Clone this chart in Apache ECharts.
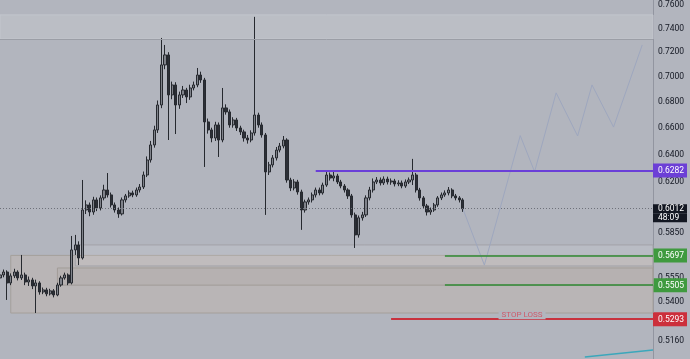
<!DOCTYPE html>
<html><head><meta charset="utf-8">
<script src="https://cdn.jsdelivr.net/npm/echarts@6/dist/echarts.min.js"></script>
<style>html,body{margin:0;padding:0;background:#b2b5be;}#c{width:690px;height:359px;}</style>
</head><body><div id="c"></div>
<script>
// ---- data ----
const openV = [0.5551,0.5570,0.5589,0.5519,0.5564,0.5589,0.5551,0.5570,0.5525,0.5538,
0.5500,0.5519,0.5462,0.5475,0.5450,0.5469,0.5443,0.5506,0.5551,0.5570,
0.5519,0.5733,0.5766,0.5680,0.6003,0.6038,0.5989,0.6073,0.6017,0.6087,
0.6143,0.6108,0.6038,0.6003,0.5976,0.6073,0.6101,0.6122,0.6108,0.6143,
0.6164,0.6250,0.6359,0.6470,0.6583,0.6775,0.7095,0.7177,0.6854,0.6933,
0.6775,0.6854,0.6893,0.6838,0.6909,0.6933,0.7013,0.6973,0.6644,0.6583,
0.6522,0.6621,0.6507,0.6752,0.6721,0.6621,0.6659,0.6598,0.6568,0.6522,
0.6507,0.6560,0.6697,0.6621,0.6545,0.6272,0.6323,0.6374,0.6432,0.6462,
0.6507,0.6214,0.6157,0.6200,0.6129,0.6003,0.6059,0.6073,0.6108,0.6143,
0.6122,0.6178,0.6250,0.6228,0.6243,0.6200,0.6171,0.6143,0.6101,0.5969,
0.5833,0.5949,0.5969,0.6087,0.6143,0.6200,0.6214,0.6193,0.6221,0.6200,
0.6207,0.6186,0.6193,0.6171,0.6200,0.6214,0.6250,0.6143,0.6087,0.6031,
0.5989,0.6003,0.6038,0.6087,0.6108,0.6122,0.6143,0.6101,0.6087,0.6073];
const closeV = [0.5570,0.5589,0.5519,0.5564,0.5589,0.5551,0.5570,0.5525,0.5538,0.5500,
0.5519,0.5462,0.5475,0.5450,0.5469,0.5443,0.5506,0.5551,0.5570,0.5519,
0.5733,0.5766,0.5680,0.6003,0.6038,0.5989,0.6073,0.6017,0.6087,0.6143,
0.6108,0.6038,0.6003,0.5976,0.6073,0.6101,0.6122,0.6108,0.6143,0.6164,
0.6250,0.6359,0.6470,0.6583,0.6775,0.7095,0.7177,0.6854,0.6933,0.6775,
0.6854,0.6893,0.6838,0.6909,0.6933,0.7013,0.6973,0.6644,0.6583,0.6522,
0.6621,0.6507,0.6752,0.6721,0.6621,0.6659,0.6598,0.6568,0.6522,0.6507,
0.6560,0.6697,0.6621,0.6545,0.6272,0.6323,0.6374,0.6432,0.6462,0.6507,
0.6214,0.6157,0.6200,0.6129,0.6003,0.6059,0.6073,0.6108,0.6143,0.6122,
0.6178,0.6250,0.6228,0.6243,0.6200,0.6171,0.6143,0.6101,0.5969,0.5833,
0.5949,0.5969,0.6087,0.6143,0.6200,0.6214,0.6193,0.6221,0.6200,0.6207,
0.6186,0.6193,0.6171,0.6200,0.6214,0.6250,0.6143,0.6087,0.6031,0.5989,
0.6003,0.6038,0.6087,0.6108,0.6122,0.6143,0.6101,0.6087,0.6073,0.6012];
const lowV = [0.5530,0.5555,0.5412,0.5505,0.5550,0.5535,0.5538,0.5505,0.5500,0.5480,
0.5331,0.5445,0.5448,0.5435,0.5440,0.5428,0.5435,0.5495,0.5540,0.5505,
0.5510,0.5700,0.5634,0.5670,0.5975,0.5960,0.5970,0.5995,0.6000,0.6070,
0.6090,0.6020,0.5985,0.5949,0.5965,0.6055,0.6088,0.6092,0.6095,0.6125,
0.6150,0.6235,0.6340,0.6450,0.6560,0.6750,0.7060,0.6507,0.6820,0.6552,
0.6745,0.6830,0.6790,0.6815,0.6890,0.6915,0.6950,0.6308,0.6555,0.6490,
0.6500,0.6381,0.6490,0.6700,0.6600,0.6600,0.6575,0.6545,0.6495,0.6480,
0.6490,0.6540,0.6600,0.6525,0.5969,0.6250,0.6305,0.6355,0.6415,0.6445,
0.6195,0.6135,0.6140,0.6110,0.5867,0.5985,0.6040,0.6055,0.6090,0.6105,
0.6110,0.6165,0.6210,0.6205,0.6185,0.6155,0.6125,0.6080,0.5950,0.5746,
0.5815,0.5930,0.5955,0.6070,0.6125,0.6185,0.6175,0.6178,0.6182,0.6180,
0.6168,0.6170,0.6155,0.6158,0.6185,0.6178,0.6125,0.6068,0.6012,0.5965,
0.5970,0.5990,0.6025,0.6072,0.6095,0.6105,0.6085,0.6070,0.6055,0.5990];
const highV = [0.5590,0.5605,0.5600,0.5580,0.5610,0.5600,0.5700,0.5585,0.5560,0.5552,
0.5540,0.5530,0.5490,0.5488,0.5482,0.5480,0.5520,0.5565,0.5585,0.5580,
0.5826,0.5833,0.5790,0.6214,0.6070,0.6055,0.6095,0.6090,0.6105,0.6180,
0.6264,0.6125,0.6055,0.6020,0.6090,0.6115,0.6140,0.6138,0.6160,0.6185,
0.6275,0.6385,0.6500,0.6615,0.6810,0.7319,0.7260,0.7200,0.6960,0.6955,
0.6880,0.6925,0.6910,0.6935,0.6960,0.7070,0.7040,0.6990,0.6670,0.6600,
0.6645,0.6640,0.6909,0.6780,0.6740,0.6680,0.6675,0.6615,0.6585,0.6545,
0.6580,0.7499,0.6715,0.6640,0.6560,0.6345,0.6395,0.6455,0.6485,0.6537,
0.6520,0.6230,0.6220,0.6215,0.6145,0.6075,0.6090,0.6125,0.6160,0.6160,
0.6195,0.6279,0.6268,0.6279,0.6258,0.6215,0.6185,0.6155,0.6115,0.5985,
0.5965,0.5990,0.6105,0.6165,0.6225,0.6235,0.6232,0.6240,0.6238,0.6225,
0.6222,0.6212,0.6210,0.6218,0.6232,0.6367,0.6265,0.6158,0.6100,0.6045,
0.6020,0.6052,0.6100,0.6125,0.6140,0.6164,0.6155,0.6115,0.6100,0.6085];
// projected path (category index, price)
const projIdx = [129,135,145,149,155,161,165,171,179];
const projVal = [0.6012,0.5634,0.6540,0.6274,0.6870,0.6537,0.6933,0.6605,0.7260];
// axis tick labels
const tickLabels = [0.7600,0.7400,0.7200,0.7000,0.6800,0.6600,0.6400,0.6200,0.5850,0.5550,0.5400,0.5160];
// drawn levels
const currentPrice = 0.6012, countdown = '48:09';
const resistance = 0.6282, target1 = 0.5697, target2 = 0.5505, stopLoss = 0.5293;
const topBand = [0.7516, 0.7310];
const zoneA = [0.5697, 0.5331];
const zoneB = [0.5766, 0.5628];
const zoneC = [0.5615, 0.5505];
const cyanLine = [[163,0.5068],[182,0.5109]];
const nCats = 183;

const categories = Array.from({length:nCats},(_,i)=>String(i));
const candles = openV.map((o,i)=>[o, closeV[i], lowV[i], highV[i]]);
const projData = projIdx.map((x,i)=>[x, projVal[i]]);

const near=(a,b)=>Math.abs(a-b)<0.00005;
const chart = echarts.init(document.getElementById('c'), null, {renderer:'canvas'});
const FONT = 'Roboto, "Liberation Sans", sans-serif';
const boxStyle = (bg)=>({backgroundColor:bg,color:'#ffffff',width:29,padding:[2,0,2,5],fontSize:8.5,lineHeight:9,fontFamily:FONT});
chart.setOption({
  animation:false,
  backgroundColor:'#b2b5be',
  grid:{left:0,right:33,top:0,bottom:0},
  xAxis:{type:'category',data:categories,boundaryGap:false,show:false},
  yAxis:{type:'log',logBase:10,position:'right',min:0.5056,max:0.7646,
    splitLine:{show:false},axisTick:{show:false},
    axisLine:{show:true,lineStyle:{color:'#9295a0',width:1}},
    axisLabel:{
      customValues: tickLabels.concat([resistance,currentPrice,target1,target2,stopLoss]),
      margin:0, hideOverlap:false, fontFamily:FONT, fontSize:8.5, color:'#131722',
      formatter:function(v){
        const s=Number(v).toFixed(4);
        if(near(v,resistance)) return '{pu|'+s+'}';
        if(near(v,currentPrice)) return '{e| }\n{bk|'+s+'}\n{bk|'+countdown+'}';
        if(near(v,target1)||near(v,target2)) return '{gr|'+s+'}';
        if(near(v,stopLoss)) return '{rd|'+s+'}';
        return '{n|'+s+'}';
      },
      rich:{
        n:{color:'#131722',fontSize:8.5,padding:[0,0,0,5],fontFamily:FONT},
        e:{fontSize:8,lineHeight:9,height:9},
        pu:Object.assign(boxStyle('#6c3fd6'),{padding:[3,0,2,5]}),
        bk:Object.assign(boxStyle('#131722'),{padding:[0,0,0,5],height:9}),
        gr:Object.assign(boxStyle('#3f9a3f'),{padding:[3,0,2,5]}),
        rd:Object.assign(boxStyle('#cc2f3b'),{padding:[3,0,2,5]})
      }
    }
  },
  series:[
    {type:'line',data:projData,symbol:'none',silent:true,z:1,
      lineStyle:{color:'#9ea7be',width:1},
      markArea:{silent:true,data:[
        [{coord:[0,topBand[0]],itemStyle:{color:'rgba(255,255,255,0.12)',borderColor:'#c3c6cd',borderWidth:1}},{coord:[nCats-1,topBand[1]]}],
        [{coord:[3,zoneA[0]],itemStyle:{color:'rgba(196,182,168,0.38)',borderColor:'#a5a09b',borderWidth:1}},{coord:[nCats-1,zoneA[1]]}],
        [{coord:[21,zoneB[0]],itemStyle:{color:'rgba(255,255,255,0.10)',borderColor:'#a2a3a8',borderWidth:1}},{coord:[nCats-1,zoneB[1]]}],
        [{coord:[16,zoneC[0]],itemStyle:{color:'rgba(160,150,140,0.10)',borderColor:'#a29d98',borderWidth:1}},{coord:[nCats-1,zoneC[1]]}]
      ]},
      markLine:{silent:true,symbol:['none','none'],label:{show:false},data:[
        [{coord:[0,topBand[1]],lineStyle:{color:'#9b9ea6',width:1,type:'solid'}},{coord:[nCats-1,topBand[1]]}],
        [{coord:[0,currentPrice],lineStyle:{color:'#6e717a',width:1,type:[1,2]}},{coord:[nCats-1,currentPrice]}],
        [{coord:[88,resistance],lineStyle:{color:'#6a3fd8',width:2,type:'solid'}},{coord:[nCats-1,resistance]}],
        [{coord:[124,target1],lineStyle:{color:'#2f8a33',width:1.5,type:'solid'}},{coord:[nCats-1,target1]}],
        [{coord:[124,target2],lineStyle:{color:'#2f8a33',width:1.5,type:'solid'}},{coord:[nCats-1,target2]}],
        [{coord:[109,stopLoss],lineStyle:{color:'#c8323e',width:2,type:'solid'},
          label:{show:true,formatter:'STOP LOSS',position:'middle',distance:0,color:'#cf5a69',fontSize:8,fontFamily:FONT,backgroundColor:'#b2b5be',padding:[0,3]}},
         {coord:[nCats-1,stopLoss]}],
        [{coord:cyanLine[0],lineStyle:{color:'#3ba7bb',width:1.5,type:'solid'}},{coord:cyanLine[1]}]
      ]}
    },
    {type:'candlestick',data:candles,z:3,barWidth:2.6,
      itemStyle:{color:'#80838b',color0:'#2c2f37',borderColor:'#26292f',borderColor0:'#26292f',borderWidth:1}}
  ]
});
</script></body></html>
